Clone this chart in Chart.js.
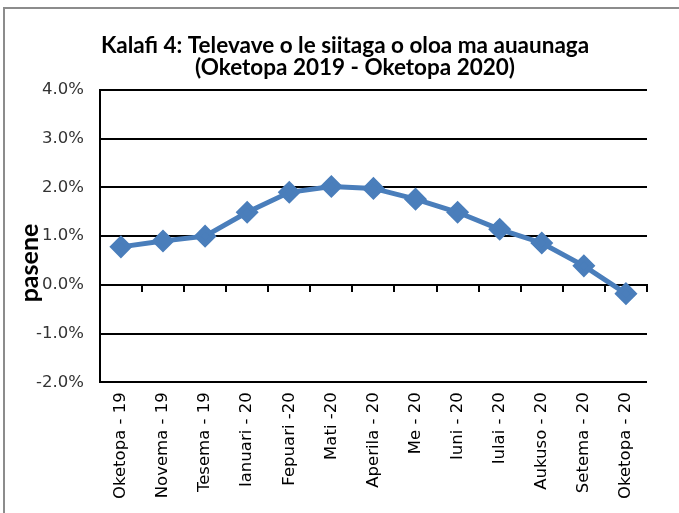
<!DOCTYPE html>
<html>
<head>
<meta charset="utf-8">
<script src="https://cdn.jsdelivr.net/npm/chart.js@4/dist/chart.umd.min.js"></script>
<style>
    html, body { margin: 0; padding: 0; background: #fff; }
    #wrap { position: relative; width: 679px; height: 513px; }
    #frame {
        position: absolute; left: 3px; top: 7px; right: 0; bottom: 0;
        border-left: 2px solid #8c8c8c; border-top: 2px solid #8c8c8c;
        pointer-events: none;
    }
    canvas { position: absolute; left: 0; top: 0; }
</style>
</head>
<body>
<div id="wrap">
    <canvas id="chart" width="679" height="513"></canvas>
    <div id="frame"></div>
</div>
<script>
// months shown along the bottom
const months = [
    'Oketopa - 19', 'Novema - 19', 'Tesema - 19', 'Ianuari - 20', 'Fepuari -20',
    'Mati -20', 'Aperila - 20', 'Me - 20', 'Iuni - 20', 'Iulai - 20',
    'Aukuso - 20', 'Setema - 20', 'Oketopa - 20'
];

// yearly change, percent
const pasene = [0.78, 0.90, 1.00, 1.49, 1.90, 2.02, 1.98, 1.76, 1.49, 1.14, 0.86, 0.39, -0.18];

const titleLines = ['Kalafi 4: Televave o le siitaga o oloa ma auaunaga', '(Oketopa 2019 - Oketopa 2020)'];
const yTitle = 'pasene';

const tickFont = { family: 'DejaVu Sans', size: 16.5 };

// title lines and the "pasene" label (which overlaps the tick labels in the original)
const textPlugin = {
    id: 'texts',
    afterDraw(chart) {
        const ctx = chart.ctx;
        ctx.save();
        ctx.fillStyle = '#000';
        ctx.textAlign = 'center';
        ctx.textBaseline = 'alphabetic';
        ctx.font = 'bold 22.5px Lato';
        ctx.fillText(titleLines[0], 345, 53);
        ctx.fillText(titleLines[1], 355, 75);

        ctx.translate(30, 263);
        ctx.rotate(-Math.PI / 2);
        ctx.font = 'bold 25px Lato';
        ctx.textBaseline = 'middle';
        ctx.fillText(yTitle, 0, 0);
        ctx.restore();
    }
};

new Chart(document.getElementById('chart'), {
    type: 'line',
    data: {
        labels: months,
        datasets: [{
            label: yTitle,
            data: pasene,
            borderColor: '#4a7ebb',
            backgroundColor: '#4a7ebb',
            borderWidth: 5,
            pointStyle: 'rectRot',
            pointRadius: 8,
            pointHoverRadius: 8,
            tension: 0,
            xAxisID: 'x'
        }]
    },
    options: {
        responsive: false,
        animation: false,
        layout: { padding: { left: 20, right: 32, top: 90, bottom: 4 } },
        plugins: {
            legend: { display: false },
            tooltip: { enabled: false },
            title: { display: false }
        },
        scales: {
            x: {
                type: 'category',
                position: 'bottom',
                offset: true,
                grid: { display: false, drawTicks: false },
                border: { display: false },
                ticks: {
                    minRotation: 90,
                    maxRotation: 90,
                    autoSkip: false,
                    padding: 10,
                    color: '#000',
                    font: tickFont
                }
            },
            x0: {
                type: 'category',
                position: { y: 0 },
                offset: true,
                grid: {
                    offset: true,
                    drawOnChartArea: false,
                    drawTicks: true,
                    tickLength: 6,
                    color: '#000',
                    lineWidth: 2
                },
                border: { display: true, color: '#000', width: 2 },
                ticks: { display: false }
            },
            y: {
                min: -2,
                max: 4,
                ticks: {
                    stepSize: 1,
                    padding: 16,
                    color: '#333',
                    font: tickFont,
                    callback: v => v.toFixed(1) + '%'
                },
                grid: { color: '#000', lineWidth: 2, drawTicks: false },
                border: { display: true, color: '#000', width: 2 }
            }
        }
    },
    plugins: [textPlugin]
});
</script>
</body>
</html>
